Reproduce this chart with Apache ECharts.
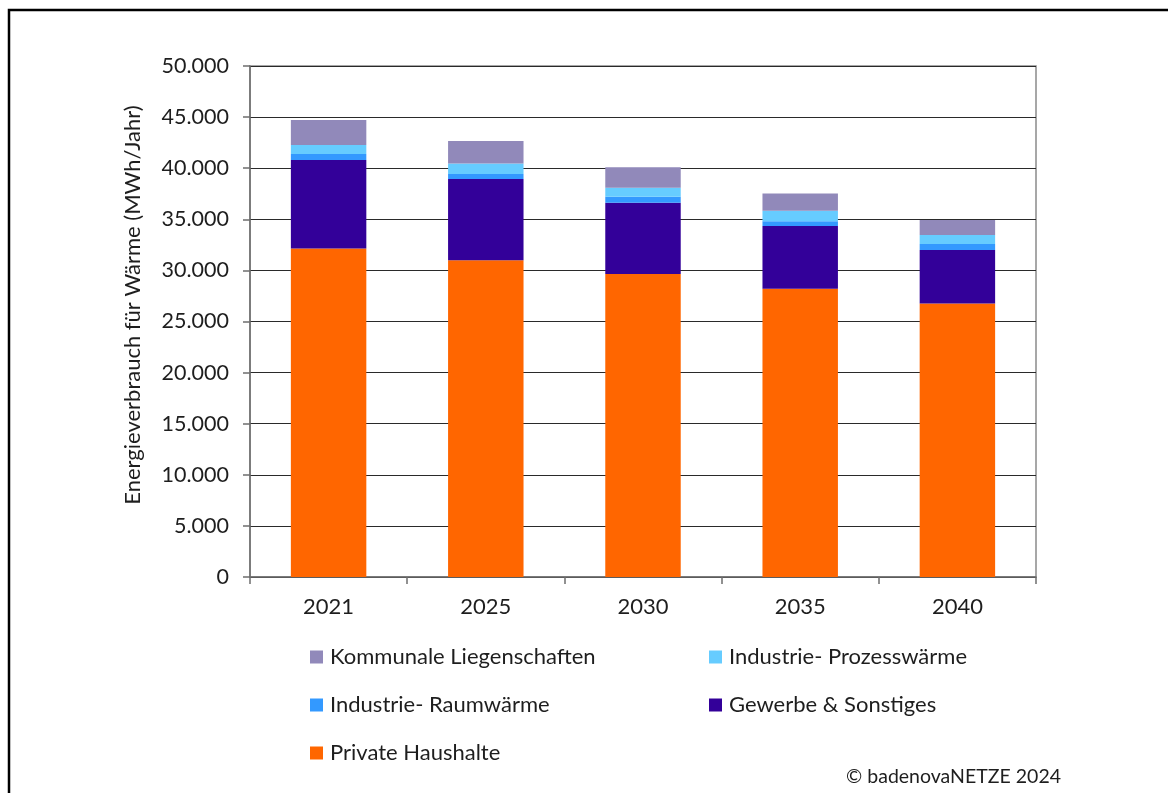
<!DOCTYPE html>
<html>
<head>
<meta charset="utf-8">
<script src="https://cdn.jsdelivr.net/npm/echarts@6/dist/echarts.min.js"></script>
<style>
  html, body { margin: 0; padding: 0; background: #fff; }
  #chart { width: 1168px; height: 793px; }
</style>
</head>
<body>
<div id="chart"></div>
<script>
// Wärmeverbrauch nach Sektoren, MWh/Jahr
const years = ['2021', '2025', '2030', '2035', '2040'];
const privateHaushalte = [32150, 31000, 29650, 28200, 26750];
const gewerbe = [8650, 7950, 6980, 6150, 5250];
const industrieRaum = [580, 480, 580, 470, 580];
const industrieProzess = [880, 1040, 880, 1010, 880];
const kommunal = [2450, 2200, 2000, 1700, 1470];
const yTicks = [0, 5000, 10000, 15000, 20000, 25000, 30000, 35000, 40000, 45000, 50000];

const FONT = 'Lato';
const TEXT = '#1e1e1e';
const fmt = v => v === 0 ? '0' : v.toLocaleString('de-DE');

const chart = echarts.init(document.getElementById('chart'), null, { renderer: 'canvas' });

function bar(name, data, color) {
  return {
    name, type: 'bar', stack: 'total', data, barWidth: '48%',
    itemStyle: { color },
    emphasis: { disabled: true }
  };
}

const legendBase = {
  top: 646, orient: 'vertical', padding: 0,
  itemWidth: 13, itemHeight: 13, itemGap: 26,
  icon: 'rect', selectedMode: false,
  textStyle: { fontSize: 22, lineHeight: 22, color: TEXT, fontFamily: FONT, padding: [0, 0, 0, 2] }
};

chart.setOption({
  animation: false,
  backgroundColor: '#fff',
  textStyle: { fontFamily: FONT },
  grid: { left: 250, top: 66, right: 132, bottom: 216, show: true, borderColor: '#8a8a8a', borderWidth: 1.5 },
  xAxis: {
    type: 'category', data: years,
    axisLine: { lineStyle: { color: '#6e6e6e', width: 1.5 } },
    axisTick: { show: true, length: 7, lineStyle: { color: '#6e6e6e', width: 1.5 } },
    axisLabel: { color: TEXT, fontSize: 22, fontFamily: FONT, margin: 19 }
  },
  yAxis: {
    type: 'value', min: yTicks[0], max: yTicks[yTicks.length - 1], interval: 5000,
    axisLine: { show: true, lineStyle: { color: '#6e6e6e', width: 1.5 } },
    axisTick: { show: true, length: 7, lineStyle: { color: '#6e6e6e', width: 1.5 } },
    axisLabel: { color: TEXT, fontSize: 21.5, fontFamily: FONT, margin: 21, formatter: fmt },
    splitLine: { lineStyle: { color: '#2a2a2a', width: 1 } }
  },
  legend: [
    Object.assign({}, legendBase, {
      left: 310,
      data: ['Kommunale Liegenschaften', 'Industrie- Raumwärme', 'Private Haushalte']
    }),
    Object.assign({}, legendBase, {
      left: 709,
      data: ['Industrie- Prozesswärme', 'Gewerbe & Sonstiges']
    })
  ],
  graphic: [
    {
      type: 'rect', shape: { x: 9, y: 10, width: 1200, height: 820 }, silent: true,
      style: { fill: 'none', stroke: '#000', lineWidth: 2.5 }
    },
    {
      type: 'text', x: 133, y: 305, rotation: Math.PI / 2, silent: true,
      style: {
        text: 'Energieverbrauch für Wärme (MWh/Jahr)', fontSize: 22, fontFamily: FONT,
        fill: TEXT, align: 'center', verticalAlign: 'middle'
      }
    },
    {
      type: 'text', x: 1061, y: 777, silent: true,
      style: {
        text: '© badenovaNETZE 2024', fontSize: 19.5, fontFamily: FONT,
        fill: TEXT, align: 'right', verticalAlign: 'middle'
      }
    }
  ],
  series: [
    bar('Private Haushalte', privateHaushalte, '#FF6600'),
    bar('Gewerbe & Sonstiges', gewerbe, '#330099'),
    bar('Industrie- Raumwärme', industrieRaum, '#3399FF'),
    bar('Industrie- Prozesswärme', industrieProzess, '#66CCFF'),
    bar('Kommunale Liegenschaften', kommunal, '#9189BA')
  ]
});
</script>
</body>
</html>
